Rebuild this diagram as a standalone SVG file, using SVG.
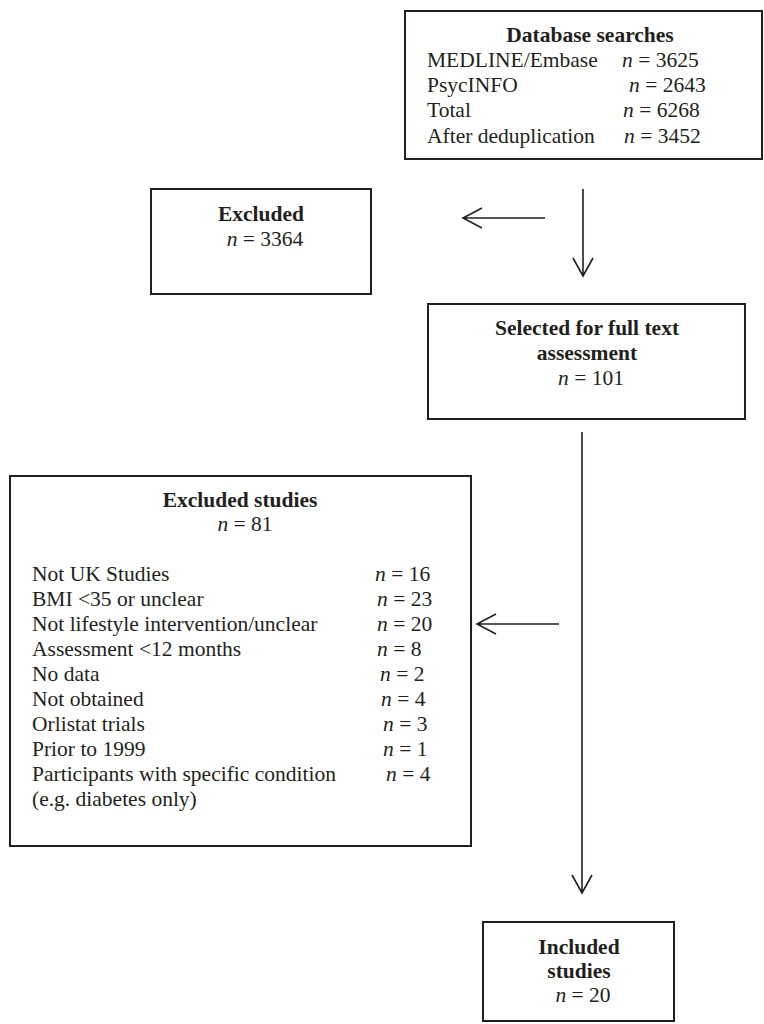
<svg xmlns="http://www.w3.org/2000/svg" width="764" height="1024" viewBox="0 0 764 1024">
<style>
text{font-family:"Liberation Serif","Times New Roman",serif;font-size:21.5px;fill:#231f20}
.b{font-weight:bold}
.c{text-anchor:middle}
.i{font-style:italic}
.box{fill:none;stroke:#231f20;stroke-width:2}
.ln{fill:none;stroke:#231f20;stroke-width:1.6}
</style>
<g id="connectors">
<path class="ln" d="M545 218H464M482 208L463 218L482 228"/>
<path class="ln" d="M583 189V275M573 258L583 276L593 258"/>
<path class="ln" d="M582 432V892M572 875L582 893L592 875"/>
<path class="ln" d="M559 624H478M496 614L477 624L496 634"/>
</g>
<g id="database">
<rect class="box" x="405" y="11" width="357" height="148"/>
<text class="b c" x="590" y="42">Database searches</text>
<text x="427" y="67">MEDLINE/Embase</text><text x="622" y="67"><tspan class="i">n</tspan> = 3625</text>
<text x="427" y="92">PsycINFO</text><text x="629" y="92"><tspan class="i">n</tspan> = 2643</text>
<text x="427" y="117">Total</text><text x="623" y="117"><tspan class="i">n</tspan> = 6268</text>
<text x="427" y="143">After deduplication</text><text x="624" y="143"><tspan class="i">n</tspan> = 3452</text>
</g>
<g id="excluded">
<rect class="box" x="151" y="189" width="220" height="105"/>
<text class="b c" x="261" y="221">Excluded</text>
<text class="c" x="265" y="246"><tspan class="i">n</tspan> = 3364</text>
</g>
<g id="selected">
<rect class="box" x="428" y="304" width="317" height="115"/>
<text class="b c" x="587" y="335">Selected for full text</text>
<text class="b c" x="587" y="360">assessment</text>
<text class="c" x="591" y="385"><tspan class="i">n</tspan> = 101</text>
</g>
<g id="excluded-studies">
<rect class="box" x="10" y="476" width="461" height="370"/>
<text class="b c" x="240" y="507">Excluded studies</text>
<text class="c" x="245" y="531"><tspan class="i">n</tspan> = 81</text>
<text x="32" y="581">Not UK Studies</text><text x="375" y="581"><tspan class="i">n</tspan> = 16</text>
<text x="32" y="606">BMI &lt;35 or unclear</text><text x="377" y="606"><tspan class="i">n</tspan> = 23</text>
<text x="32" y="631">Not lifestyle intervention/unclear</text><text x="377" y="631"><tspan class="i">n</tspan> = 20</text>
<text x="32" y="656">Assessment &lt;12 months</text><text x="377" y="656"><tspan class="i">n</tspan> = 8</text>
<text x="32" y="681">No data</text><text x="380" y="681"><tspan class="i">n</tspan> = 2</text>
<text x="32" y="706">Not obtained</text><text x="381" y="706"><tspan class="i">n</tspan> = 4</text>
<text x="32" y="731">Orlistat trials</text><text x="383" y="731"><tspan class="i">n</tspan> = 3</text>
<text x="32" y="756">Prior to 1999</text><text x="383" y="756"><tspan class="i">n</tspan> = 1</text>
<text x="32" y="781">Participants with specific condition</text><text x="386" y="781"><tspan class="i">n</tspan> = 4</text>
<text x="32" y="806">(e.g. diabetes only)</text>
</g>
<g id="included">
<rect class="box" x="483" y="922" width="191" height="99"/>
<text class="b c" x="579" y="954">Included</text>
<text class="b c" x="579" y="978">studies</text>
<text class="c" x="583" y="1002"><tspan class="i">n</tspan> = 20</text>
</g>
</svg>
